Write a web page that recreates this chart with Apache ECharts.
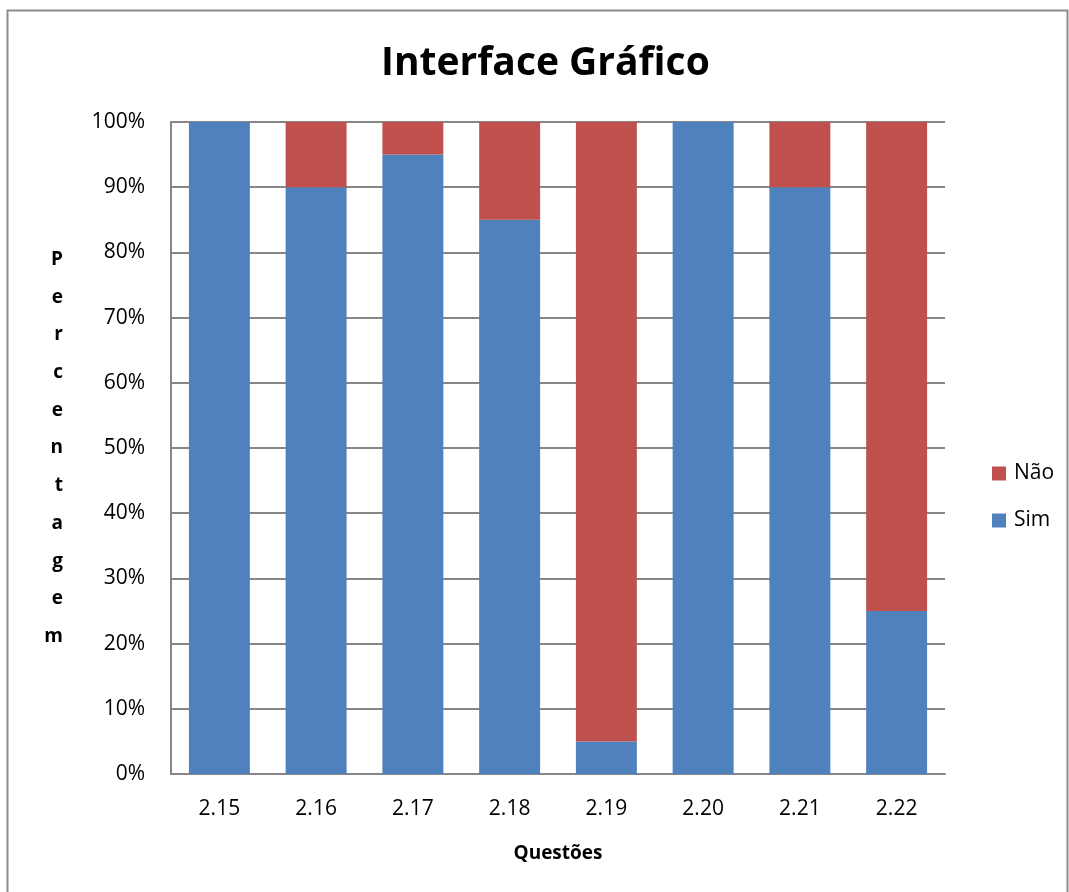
<!DOCTYPE html>
<html lang="pt">
<head>
<meta charset="UTF-8">
<title>Interface Gráfico</title>
<script src="https://cdn.jsdelivr.net/npm/echarts@6.0.0/dist/echarts.min.js"></script>
<style>
  html, body { margin: 0; padding: 0; background: #fff; }
  #main { width: 1069px; height: 892px; }
</style>
</head>
<body>
<div id="main"></div>
<script>
// dados
var questoes = ['2.15', '2.16', '2.17', '2.18', '2.19', '2.20', '2.21', '2.22'];
var sim = [100, 90, 95, 85, 5, 100, 90, 25];
var nao = [0, 10, 5, 15, 95, 0, 10, 75];

var eixoNome = 'Percentagem'.split('').join('\n');
var fonte = '"Open Sans", "Liberation Sans", sans-serif';

var grafico = echarts.init(document.getElementById('main'));
var option = {
  animation: false,
  textStyle: { fontFamily: fonte, color: '#000' },
  title: {
    text: 'Interface Gráfico',
    left: 376,
    top: 39,
    textStyle: { fontSize: 39, fontWeight: 'bold', color: '#000', fontFamily: fonte }
  },
  legend: {
    orient: 'vertical',
    left: 987,
    top: 458,
    itemWidth: 14,
    itemHeight: 14,
    itemGap: 26,
    icon: 'rect',
    data: ['Não', 'Sim'],
    textStyle: { fontSize: 21, color: '#000', padding: [0, 0, 0, 3] }
  },
  grid: { left: 171, top: 122, right: 124, bottom: 118, containLabel: false },
  xAxis: {
    type: 'category',
    data: questoes,
    name: 'Questões',
    nameLocation: 'middle',
    nameGap: 70,
    nameTextStyle: { fontSize: 19, fontWeight: 'bold', color: '#000' },
    axisLine: { lineStyle: { color: '#868686', width: 2 } },
    axisTick: { show: false },
    axisLabel: { fontSize: 21, color: '#000', margin: 25 }
  },
  yAxis: {
    type: 'value',
    min: 0,
    max: 100,
    interval: 10,
    name: eixoNome,
    nameLocation: 'middle',
    nameRotate: 0,
    nameGap: 108,
    nameTextStyle: { fontSize: 19, fontWeight: 'bold', color: '#000', lineHeight: 37.7, padding: [14, 0, 0, 0] },
    axisLine: { show: true, lineStyle: { color: '#868686', width: 2 } },
    axisTick: { show: false },
    splitLine: { lineStyle: { color: '#868686', width: 2 } },
    axisLabel: { fontSize: 21, color: '#000', margin: 26, formatter: '{value}%' }
  },
  series: [
    {
      name: 'Sim',
      type: 'bar',
      stack: 'total',
      barCategoryGap: '37%',
      data: sim,
      itemStyle: { color: '#4F81BD' }
    },
    {
      name: 'Não',
      type: 'bar',
      stack: 'total',
      barCategoryGap: '37%',
      data: nao,
      itemStyle: { color: '#C0504D' }
    }
  ],
  graphic: [
    {
      type: 'rect',
      silent: true,
      shape: { x: 7.5, y: 10.5, width: 1060, height: 920 },
      style: { fill: 'none', stroke: '#8c8c8c', lineWidth: 2 }
    }
  ]
};
grafico.setOption(option);
</script>
</body>
</html>
